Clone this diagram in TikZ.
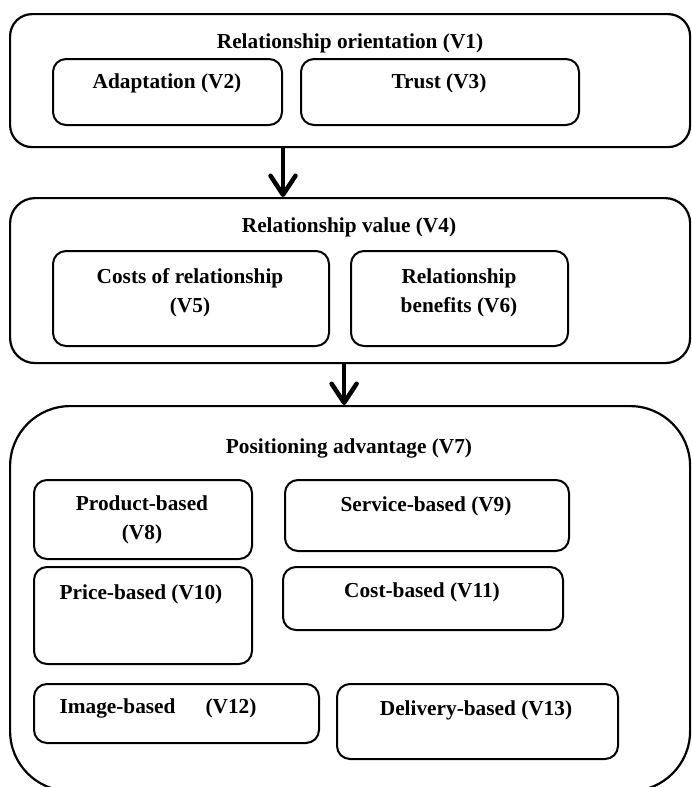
\documentclass[tikz,border=0pt]{standalone}
\usepackage{fontspec}
\setmainfont{Liberation Serif}
\usetikzlibrary{arrows.meta}

\begin{document}
\begin{tikzpicture}[x=1pt, y=-1pt,
  bigbox/.style={draw, line width=2.2pt, anchor=north west},
  smallbox/.style={draw, line width=2pt, rounded corners=13pt, anchor=north west},
  txt/.style={font=\fontsize{21.3}{29.5}\selectfont\bfseries, align=center, inner sep=0pt},
  flow/.style={line width=4.5pt, -{Straight Barb[length=19pt, width=25pt, round]}}]
\useasboundingbox (0,0) rectangle (692,787);
\clip (0,0) rectangle (692,787);

% relationship orientation
\node[bigbox, rounded corners=22pt, minimum width=680pt, minimum height=133pt] (orient) at (9,13) {};
\node[txt] (orienttxt) at (350,43) {Relationship orientation (V1)};
\node[smallbox, minimum width=229pt, minimum height=66pt] (adapt) at (52,58) {};
\node[txt] (adapttxt) at (167,83) {Adaptation (V2)};
\node[smallbox, minimum width=278pt, minimum height=66pt] (trust) at (300,58) {};
\node[txt] (trusttxt) at (439,83) {Trust (V3)};

% relationship value
\node[bigbox, rounded corners=25pt, minimum width=680pt, minimum height=165pt] (value) at (9,197) {};
\node[txt] (valuetxt) at (349,227) {Relationship value (V4)};
\node[smallbox, minimum width=276pt, minimum height=95pt] (costs) at (52,250) {};
\node[txt] (coststxt) at (190,293) {Costs of relationship\\(V5)};
\node[smallbox, minimum width=217pt, minimum height=95pt] (benefit) at (350,250) {};
\node[txt] (benefittxt) at (459,293) {Relationship\\benefits (V6)};

% positioning advantage
\node[bigbox, rounded corners=60pt, minimum width=680pt, minimum height=385pt] (advant) at (9,405) {};
\node[txt] (advanttxt) at (349,448) {Positioning advantage (V7)};
\node[smallbox, minimum width=218pt, minimum height=79pt] (product) at (33,479) {};
\node[txt] (producttxt) at (142,520) {Product-based\\(V8)};
\node[smallbox, minimum width=284pt, minimum height=71pt] (service) at (284,479) {};
\node[txt] (servicetxt) at (426,506) {Service-based (V9)};
\node[smallbox, minimum width=218pt, minimum height=97pt] (price) at (33,566) {};
\node[txt] (pricetxt) at (141,594) {Price-based (V10)};
\node[smallbox, minimum width=280pt, minimum height=63pt] (cost) at (282,566) {};
\node[txt] (costtxt) at (422,592) {Cost-based (V11)};
\node[smallbox, minimum width=285pt, minimum height=59pt] (image) at (33,683) {};
\node[txt] (imagetxt) at (158,708) {Image-based\hspace{30pt}(V12)};
\node[smallbox, minimum width=281pt, minimum height=75pt] (delivery) at (336,683) {};
\node[txt] (deliverytxt) at (476,710) {Delivery-based (V13)};

% arrows
\draw[flow] (orient.south -| adapt.east) -- (value.north -| adapt.east);
\draw[flow] ([xshift=-6pt]value.south) -- ([xshift=-6pt]advant.north);
\end{tikzpicture}
\end{document}
